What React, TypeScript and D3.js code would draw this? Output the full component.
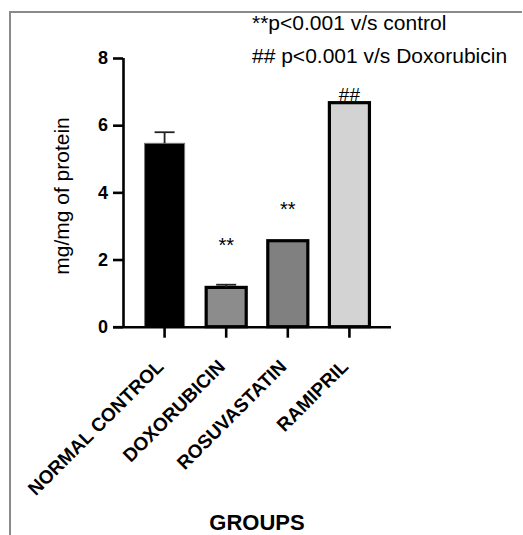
import React, { useEffect, useRef } from "react";
import * as d3 from "d3";

const groups = ["NORMAL CONTROL", "DOXORUBICIN", "ROSUVASTATIN", "RAMIPRIL"];
const means = [5.46, 1.17, 2.56, 6.67];
const errors = [0.33, 0.08, 0, 0];
const fills = ["#000000", "#8c8c8c", "#808080", "#d3d3d3"];
const marks = ["", "**", "**", "##"];
const markLevels = [0, 2.22, 3.3, 6.72];
const yTicks = [0, 2, 4, 6, 8];
const notes = ["**p<0.001 v/s control", "## p<0.001 v/s Doxorubicin"];

const font = "'Liberation Sans', Arial, sans-serif";

const App = () => {
  const ref = useRef<SVGSVGElement>(null);

  useEffect(() => {
    const width = 523,
      height = 535;
    const svg = d3.select(ref.current);
    svg.selectAll("*").remove();
    svg.attr("width", width).attr("height", height);

    // frame (top and left edges only)
    svg.append("path")
      .attr("d", `M10,${height} V12 H${width - 1}`)
      .attr("fill", "none")
      .attr("stroke", "#8a8a8a")
      .attr("stroke-width", 2);

    const left = 123,
      right = 391,
      top = 58,
      bottom = 326.7;

    const x = d3.scaleBand().domain(groups).range([left, right]).padding(0.35);
    const y = d3.scaleLinear().domain([0, 8]).range([bottom, top]);

    // bars
    svg.selectAll("rect.bar")
      .data(groups)
      .enter()
      .append("rect")
      .attr("class", "bar")
      .attr("x", (d) => x(d)!)
      .attr("y", (d, i) => y(means[i]))
      .attr("width", x.bandwidth())
      .attr("height", (d, i) => y(0) - y(means[i]))
      .attr("fill", (d, i) => fills[i])
      .attr("stroke", (d, i) => (i === 0 ? "#777" : "#000"))
      .attr("stroke-width", (d, i) => (i === 0 ? 1 : 3.2));

    // error bars
    const eb = svg.selectAll("g.err")
      .data(groups.filter((d, i) => errors[i] > 0))
      .enter()
      .append("g")
      .attr("class", "err")
      .attr("stroke", "#222")
      .attr("stroke-width", 1.8);
    eb.append("line")
      .attr("x1", (d) => x(d)! + x.bandwidth() / 2)
      .attr("x2", (d) => x(d)! + x.bandwidth() / 2)
      .attr("y1", (d) => y(means[groups.indexOf(d)]))
      .attr("y2", (d) => y(means[groups.indexOf(d)] + errors[groups.indexOf(d)]));
    eb.append("line")
      .attr("x1", (d) => x(d)! + x.bandwidth() / 4)
      .attr("x2", (d) => x(d)! + (3 * x.bandwidth()) / 4)
      .attr("y1", (d) => y(means[groups.indexOf(d)] + errors[groups.indexOf(d)]))
      .attr("y2", (d) => y(means[groups.indexOf(d)] + errors[groups.indexOf(d)]));

    // significance marks
    svg.selectAll("text.mark")
      .data(groups)
      .enter()
      .append("text")
      .attr("class", "mark")
      .attr("x", (d) => x(d)! + x.bandwidth() / 2)
      .attr("y", (d, i) => y(markLevels[i]))
      .attr("text-anchor", "middle")
      .attr("font-family", font)
      .attr("font-size", (d, i) => (marks[i] === "##" ? 19 : 20))
      .text((d, i) => marks[i]);

    // y axis
    const yAxis = d3.axisLeft(y).tickValues(yTicks).tickSize(10).tickSizeOuter(0).tickPadding(5);
    const gy = svg.append("g").attr("transform", `translate(${left},0)`).call(yAxis);
    gy.select(".domain").attr("stroke-width", 2.6).attr("d", `M0.5,${top}V${bottom}`);
    gy.selectAll(".tick line").attr("stroke-width", 2.6);
    gy.selectAll(".tick text")
      .attr("font-family", font)
      .attr("font-size", 18)
      .attr("font-weight", "bold")
      .attr("fill", "#000");

    // x axis
    const xAxis = d3.axisBottom(x).tickSize(11).tickSizeOuter(0).tickFormat(() => "");
    const gx = svg.append("g").attr("transform", `translate(0,${bottom})`).call(xAxis);
    gx.select(".domain").attr("stroke-width", 2.6).attr("d", `M${left - 10},0.5H${right}`);
    gx.selectAll(".tick line").attr("stroke-width", 2.6);

    svg.selectAll("text.xlab")
      .data(groups)
      .enter()
      .append("text")
      .attr("class", "xlab")
      .attr("transform", (d) => `translate(${x(d)! + x.bandwidth() / 2},${bottom + 41}) rotate(-45)`)
      .attr("text-anchor", "end")
      .attr("font-family", font)
      .attr("font-size", 19)
      .attr("font-weight", "bold")
      .text((d) => d);

    // axis titles
    svg.append("text")
      .attr("x", 257)
      .attr("y", 530)
      .attr("text-anchor", "middle")
      .attr("font-family", font)
      .attr("font-size", 22)
      .attr("font-weight", "bold")
      .text("GROUPS");

    svg.append("text")
      .attr("transform", `translate(69,196) rotate(-90)`)
      .attr("text-anchor", "middle")
      .attr("font-family", font)
      .attr("font-size", 21)
      .text("mg/mg of protein");

    // legend notes
    svg.selectAll("text.note")
      .data(notes)
      .enter()
      .append("text")
      .attr("class", "note")
      .attr("x", 252)
      .attr("y", (d, i) => 30 + i * 33)
      .attr("font-family", font)
      .attr("font-size", 21)
      .text((d) => d);
  }, []);

  return (
    <svg ref={ref} style={{ position: "absolute", left: 0, top: 0, background: "#fff" }}></svg>
  );
};

export default App;
